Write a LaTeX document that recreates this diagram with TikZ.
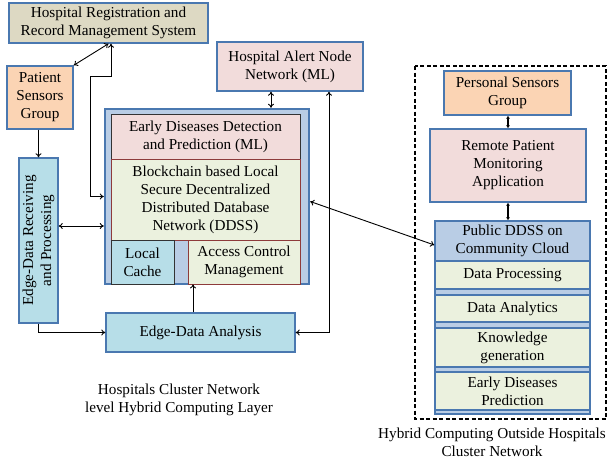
\documentclass[tikz,border=0pt]{standalone}
\usepackage{fontspec}
\setmainfont{Liberation Serif}
\usetikzlibrary{arrows.meta}
\definecolor{tanfill}{HTML}{DDD9C3}
\definecolor{peach}{HTML}{FBD4B4}
\definecolor{pinkfill}{HTML}{F2DCDB}
\definecolor{creamfill}{HTML}{EBF1DE}
\definecolor{cyanfill}{HTML}{B7DEE8}
\definecolor{steelfill}{HTML}{B9CDE5}
\definecolor{edgeblue}{HTML}{4A78B0}
\definecolor{edgered}{HTML}{8E3B3B}
\tikzset{
  box/.style={draw=edgeblue, line width=1.4pt, align=center, inner sep=0pt,
    font=\fontsize{15.2}{18}\selectfont},
  inbox/.style={draw=black!80, line width=1pt, align=center, inner sep=0pt,
    font=\fontsize{15.2}{18}\selectfont},
  redbox/.style={draw=edgered, line width=0.8pt, align=center, inner sep=0pt,
    font=\fontsize{15.2}{18}\selectfont},
  layer/.style={draw=edgeblue, line width=1.2pt, fill=creamfill, align=center,
    inner sep=0pt, minimum width=155pt, font=\fontsize{15.2}{18}\selectfont},
  caption/.style={align=center, font=\fontsize{15.2}{18}\selectfont},
  link/.style={line width=0.9pt, -{To[length=4pt,width=6pt]}},
  dlink/.style={line width=0.9pt, {To[length=4pt,width=6pt]}-{To[length=4pt,width=6pt]}},
  thick link/.style={line width=1.4pt, {Latex[length=3pt,width=4pt]}-{Latex[length=3pt,width=4pt]}}
}
\begin{document}
\begin{tikzpicture}[x=1pt, y=-1pt]
\useasboundingbox (0,0) rectangle (608,466);

% hospital side
\node[box, fill=tanfill, minimum width=199pt, minimum height=40pt] (reg) at (108.5,23)
  {Hospital Registration and\\Record Management System};
\node[box, fill=peach, minimum width=66pt, minimum height=63pt] (pat) at (40,97.5)
  {Patient\\Sensors\\Group};
\node[box, fill=pinkfill, minimum width=146pt, minimum height=49pt] (alert) at (290,66.5)
  {Hospital Alert Node\\Network (ML)};

% local DDSS container
\node[draw=edgeblue, line width=2.4pt, fill=steelfill, minimum width=204pt,
  minimum height=175pt, inner sep=0pt] (cont) at (207,196.5) {};
\node[inbox, fill=pinkfill, minimum width=189pt, minimum height=45pt] (early) at (205.5,136.5)
  {Early Diseases Detection\\and Prediction (ML)};
\node[redbox, fill=creamfill, minimum width=189pt, minimum height=81pt] (block) at (205.5,199.5)
  {Blockchain based Local\\Secure Decentralized\\Distributed Database\\Network (DDSS)};
\node[inbox, fill=cyanfill, minimum width=63pt, minimum height=44pt] (cache) at (142.5,262)
  {Local\\Cache};
\node[redbox, fill=creamfill, minimum width=112pt, minimum height=44pt] (acm) at (244,262)
  {Access Control\\Management};

\node[box, fill=cyanfill, minimum width=165pt, minimum height=39pt, rotate=90] (recv) at (38.5,240.5)
  {Edge-Data Receiving\\and Processing};
\node[box, fill=cyanfill, minimum width=189pt, minimum height=39pt] (ana) at (200.5,332.5)
  {Edge-Data Analysis};

\node[caption] (lcap) at (179,399.5)
  {Hospitals Cluster Network\\level Hybrid Computing Layer};

% outside hospitals
\draw[line width=1.2pt, dash pattern=on 4pt off 2.5pt] (415,66) rectangle (606,419);
\node[box, fill=peach, minimum width=127pt, minimum height=44pt] (pers) at (507.5,93)
  {Personal Sensors\\Group};
\node[box, fill=pinkfill, minimum width=156pt, minimum height=73pt] (remote) at (508,165.5)
  {Remote Patient\\Monitoring\\Application};

\node[draw=edgeblue, line width=1.6pt, fill=steelfill, minimum width=155pt,
  minimum height=193pt, inner sep=0pt] (stack) at (512.5,317.5) {};
\node[box, fill=steelfill, minimum width=155pt, minimum height=40pt] (pub) at (512.5,241)
  {Public DDSS on\\Community Cloud};
\node[layer, minimum height=28pt] (dp) at (512.5,275) {Data Processing};
\node[layer, minimum height=27pt] (da) at (512.5,308.5) {Data Analytics};
\node[layer, minimum height=39pt] (kg) at (512.5,347.5) {Knowledge\\generation};
\node[layer, minimum height=38pt] (edp) at (512.5,391) {Early Diseases\\Prediction};

\node[caption] (rcap) at (492,442)
  {Hybrid Computing Outside Hospitals\\Cluster Network};

% connectors
\coordinate (j1) at (90,76);
\coordinate (y226) at (0,226);
\coordinate (xa) at (193,0);
\coordinate (xb) at (271,0);
\coordinate (xc) at (329,0);
\coordinate (xr) at (111,0);

\draw[dlink] (pat.north east) -- (reg.south);
\draw[dlink] (cont.west) -| (j1) -| (reg.south -| xr);
\draw[link] (recv.east |- pat.south) -- (recv.east);
\draw[dlink] (recv.south |- y226) -- (cont.west |- y226);
\draw[link] (recv.west) |- (ana.west);
\draw[link] (ana.north -| xa) -- (acm.south -| xa);
\draw[dlink] (alert.south -| xb) -- (cont.north -| xb);
\draw[dlink] (ana.east) -| (alert.south -| xc);
\draw[dlink] ([yshift=-5pt]cont.east) -- ([yshift=-4pt]pub.west);
\draw[thick link] (pers.south -| remote.north) -- (remote.north);
\draw[thick link] (remote.south) -- (remote.south |- pub.north);
\end{tikzpicture}
\end{document}
